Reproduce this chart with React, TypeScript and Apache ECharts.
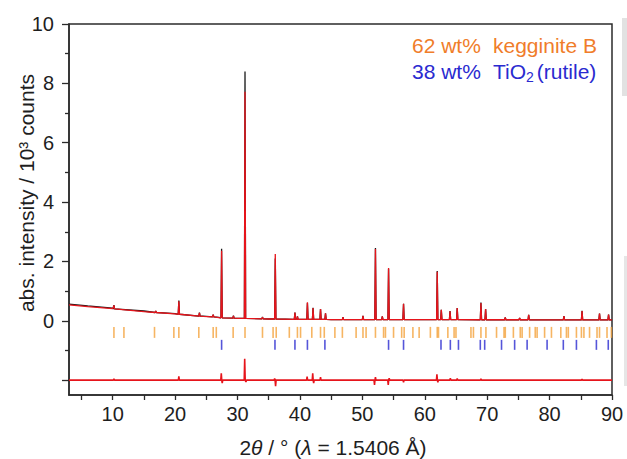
import React, { useEffect, useRef } from "react";
import * as echarts from "echarts";

// ---- axis ticks ----
const xTickValues = [5, 10, 15, 20, 25, 30, 35, 40, 45, 50, 55, 60, 65, 70, 75, 80, 85, 90];
const xLabelValues = [10, 20, 30, 40, 50, 60, 70, 80, 90];
const yMajorTicks = [-2, 0, 2, 4, 6, 8, 10];
const yLabelValues = [0, 2, 4, 6, 8, 10];
const yMinorTicks = [-1, 1, 3, 5, 7, 9];

// ---- calculated background knots [2theta, intensity] ----
const calcBackground: [number, number][] = [
  [3, 0.54], [6, 0.48], [10, 0.41], [15, 0.31], [20, 0.23], [24.5, 0.15],
  [27, 0.11], [30, 0.08], [35, 0.06], [45, 0.04], [70, 0.035], [90, 0.03],
];
// ---- observed background knots (noisier, slightly above at low angle) ----
const obsBackground: [number, number][] = [
  [3, 0.56], [6, 0.5], [10, 0.43], [15, 0.33], [20, 0.245], [24.5, 0.16],
  [27, 0.115], [30, 0.085], [35, 0.06], [45, 0.04], [70, 0.035], [90, 0.03],
];

// ---- peaks: [2theta, base, calculated top, observed top] ----
const peaks: [number, number, number, number][] = [
  [10.2, 0.40, 0.52, 0.53],
  [16.9, 0.28, 0.33, 0.33],
  [20.6, 0.22, 0.66, 0.68],
  [23.9, 0.16, 0.27, 0.28],
  [26.1, 0.13, 0.21, 0.21],
  [27.45, 0.1, 2.36, 2.43],
  [29.35, 0.09, 0.16, 0.17],
  [31.2, 0.08, 7.72, 8.4],
  [34.0, 0.065, 0.12, 0.13],
  [36.05, 0.06, 2.25, 2.1],
  [39.2, 0.05, 0.28, 0.28],
  [39.6, 0.05, 0.15, 0.15],
  [41.2, 0.05, 0.62, 0.6],
  [42.1, 0.05, 0.43, 0.44],
  [43.3, 0.045, 0.4, 0.4],
  [44.1, 0.045, 0.25, 0.25],
  [46.9, 0.04, 0.12, 0.12],
  [50.1, 0.04, 0.17, 0.17],
  [52.1, 0.04, 2.42, 2.45],
  [53.2, 0.04, 0.15, 0.15],
  [54.2, 0.04, 1.78, 1.75],
  [56.6, 0.04, 0.57, 0.57],
  [62.0, 0.04, 1.65, 1.68],
  [62.65, 0.04, 0.37, 0.37],
  [64.05, 0.04, 0.32, 0.33],
  [65.2, 0.04, 0.43, 0.43],
  [69.0, 0.035, 0.6, 0.62],
  [69.75, 0.035, 0.4, 0.4],
  [72.9, 0.035, 0.11, 0.11],
  [75.2, 0.035, 0.1, 0.1],
  [76.65, 0.035, 0.2, 0.2],
  [82.3, 0.03, 0.16, 0.16],
  [85.2, 0.03, 0.33, 0.34],
  [88.0, 0.03, 0.24, 0.24],
  [89.45, 0.03, 0.21, 0.21],
];

// ---- difference curve ----
const diffBaseline = -2;
const diffSpikes: [number, number][] = [
  [10.2, -1.95], [20.6, -1.87], [27.4, -1.77], [27.55, -2.1], [31.15, -1.28], [31.35, -2.06],
  [35.95, -1.94], [36.1, -2.2], [41.15, -1.88], [42.05, -1.77], [42.2, -2.1], [43.3, -1.9],
  [51.95, -2.16], [52.1, -1.9], [54.15, -2.16], [54.3, -1.93], [56.6, -2.07],
  [61.95, -1.8], [62.1, -2.07], [64.1, -1.93], [65.2, -1.94], [69.0, -1.95], [85.2, -1.96],
];

// ---- reflection markers ----
const keggiteTicks = [
  10.2, 11.8, 16.7, 19.8, 20.6, 23.8, 26.1, 26.6, 29.3, 31.2, 34.0, 35.7, 36.2, 38.3, 39.6,
  40.1, 41.9, 43.3, 43.9, 45.6, 46.8, 49.0, 50.1, 50.6, 52.1, 53.4, 53.7, 55.0, 56.3, 56.7,
  58.1, 59.1, 60.9, 62.0, 62.2, 63.7, 64.7, 65.0, 67.4, 67.8, 69.0, 69.8, 71.5, 72.7, 72.9,
  74.2, 75.3, 75.6, 76.8, 77.7, 78.0, 79.2, 80.3, 81.8, 82.7, 83.0, 84.3, 85.1, 85.5, 86.4,
  87.6, 88.0, 89.2, 89.9,
];
const rutileTicks = [
  27.45, 36.0, 39.2, 41.2, 44.0, 54.2, 56.6, 62.6, 64.1, 65.4, 68.9, 69.6, 72.3, 74.4, 76.4,
  79.6, 82.2, 84.3, 87.5, 89.4,
];
const keggiteTickY = -0.39;
const rutileTickY = -0.81;

const FONT = '"Liberation Sans", Arial, Helvetica, sans-serif';
const RED = "#e6141b";
const ORANGE_TEXT = "#f07d2a";
const ORANGE_TICK = "#f4a23c";
const BLUE = "#2a2ad0";
const AXIS = "#2b2b2b";

function buildProfile(bg: [number, number][], col: 2 | 3): [number, number][] {
  const w = 0.1;
  const pts: [number, number][] = bg.map((p) => [p[0], p[1]]);
  peaks.forEach((pk) => {
    pts.push([pk[0] - w, pk[1]], [pk[0], pk[col]], [pk[0] + w, pk[1]]);
  });
  pts.sort((a, b) => a[0] - b[0]);
  return pts;
}

function buildDiff(): [number, number][] {
  const w = 0.08;
  const pts: [number, number][] = [[3, diffBaseline], [90, diffBaseline]];
  diffSpikes.forEach((s) => {
    pts.push([s[0] - w, diffBaseline], [s[0], s[1]], [s[0] + w, diffBaseline]);
  });
  pts.sort((a, b) => a[0] - b[0]);
  return pts;
}

export default function App() {
  const ref = useRef<HTMLDivElement>(null);
  useEffect(() => {
    if (!ref.current) return;
    const chart = echarts.init(ref.current, undefined, { renderer: "svg" });
    const tickLabel = { color: "#1e1e1e", fontSize: 20, fontFamily: FONT };
    chart.setOption({
      animation: false,
      grid: {
        left: 69, right: 15, top: 24, bottom: 64,
        show: true, borderColor: AXIS, borderWidth: 1.5, backgroundColor: "transparent",
      },
      xAxis: {
        type: "value", min: 3, max: 90,
        axisLine: { show: true, onZero: false, lineStyle: { color: AXIS, width: 1.5 } },
        axisTick: { show: true, length: 5, customValues: xTickValues, lineStyle: { color: AXIS, width: 1.3 } },
        axisLabel: { ...tickLabel, margin: 9, customValues: xLabelValues },
        splitLine: { show: false },
      },
      yAxis: [
        {
          type: "value", min: -2.5, max: 10,
          axisLine: { show: true, onZero: false, lineStyle: { color: AXIS, width: 1.5 } },
          axisTick: { show: true, length: 7, customValues: yMajorTicks, lineStyle: { color: AXIS, width: 1.3 } },
          axisLabel: { ...tickLabel, margin: 15, customValues: yLabelValues },
          splitLine: { show: false },
        },
        {
          type: "value", min: -2.5, max: 10, position: "left",
          axisLine: { show: false, onZero: false },
          axisTick: { show: true, length: 4, customValues: yMinorTicks, lineStyle: { color: AXIS, width: 1.3 } },
          axisLabel: { show: false },
          splitLine: { show: false },
        },
      ],
      series: [
        {
          type: "line", data: buildProfile(obsBackground, 3), showSymbol: false, symbol: "none",
          lineStyle: { color: "#1a1a1a", width: 1.3 }, z: 2,
        },
        {
          type: "line", data: buildProfile(calcBackground, 2), showSymbol: false, symbol: "none",
          lineStyle: { color: RED, width: 1.3 }, z: 3,
        },
        {
          type: "line", data: buildDiff(), showSymbol: false, symbol: "none",
          lineStyle: { color: RED, width: 1.6 }, z: 3,
        },
        {
          type: "scatter", data: keggiteTicks.map((x) => [x, keggiteTickY]),
          symbol: "rect", symbolSize: [1.6, 11],
          itemStyle: { color: ORANGE_TICK }, z: 4,
        },
        {
          type: "scatter", data: rutileTicks.map((x) => [x, rutileTickY]),
          symbol: "rect", symbolSize: [1.6, 10],
          itemStyle: { color: BLUE }, z: 4,
        },
      ],
      graphic: [
        { type: "rect", shape: { x: 622, y: 18, width: 5, height: 78 }, style: { fill: "#e2e2e2" }, silent: true },
        { type: "rect", shape: { x: 624, y: 256, width: 3, height: 130 }, style: { fill: "#e6e6e6" }, silent: true },
        {
          type: "text", x: 412, y: 45,
          style: { text: "62 wt%", fill: ORANGE_TEXT, fontSize: 21, fontFamily: FONT, align: "left", verticalAlign: "middle" },
        },
        {
          type: "text", x: 493, y: 45,
          style: { text: "kegginite B", fill: ORANGE_TEXT, fontSize: 21, fontFamily: FONT, align: "left", verticalAlign: "middle" },
        },
        {
          type: "text", x: 412, y: 71,
          style: { text: "38 wt%", fill: BLUE, fontSize: 21, fontFamily: FONT, align: "left", verticalAlign: "middle" },
        },
        {
          type: "text", x: 493, y: 71,
          style: {
            text: "{a|TiO}{s|2}{a|(rutile)}",
            fill: BLUE, fontSize: 21, fontFamily: FONT, align: "left", verticalAlign: "middle",
            rich: {
              a: { fontSize: 21, fontFamily: FONT, fill: BLUE, lineHeight: 26, verticalAlign: "middle" },
              s: { fontSize: 14, fontFamily: FONT, fill: BLUE, lineHeight: 26, verticalAlign: "bottom", padding: [0, 3, 0, 0] },
            },
          },
        },
        {
          type: "text", x: 26, y: 193, rotation: Math.PI / 2,
          style: { text: "abs. intensity / 10³ counts", fill: "#1e1e1e", fontSize: 21, fontFamily: FONT, align: "center", verticalAlign: "middle" },
        },
        {
          type: "text", x: 333, y: 447,
          style: {
            text: "2{i|θ} / ° ({i|λ} = 1.5406 Å)",
            fill: "#1e1e1e", fontSize: 21, fontFamily: FONT, align: "center", verticalAlign: "middle",
            rich: { i: { fontStyle: "italic", fontSize: 21, fontFamily: FONT, fill: "#1e1e1e" } },
          },
        },
      ],
    });
    return () => chart.dispose();
  }, []);
  return <div ref={ref} style={{ width: 627, height: 459, position: "absolute", left: 0, top: 0 }} />;
}
